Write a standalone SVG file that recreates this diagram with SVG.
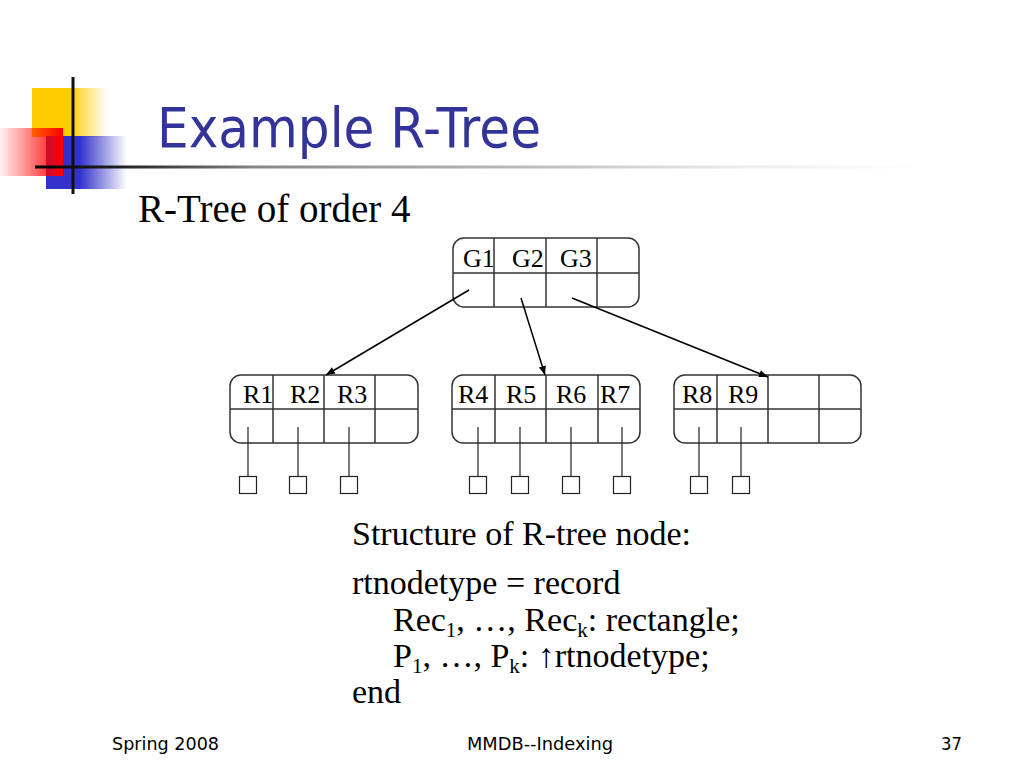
<svg xmlns="http://www.w3.org/2000/svg" width="1024" height="768" viewBox="0 0 1024 768">
<defs>
<linearGradient id="gY" x1="32" y1="0" x2="107" y2="0" gradientUnits="userSpaceOnUse">
<stop offset="0" stop-color="#FFCC00"/><stop offset="0.5" stop-color="#FFCC00"/><stop offset="1" stop-color="#FFCC00" stop-opacity="0"/>
</linearGradient>
<linearGradient id="gB" x1="46" y1="0" x2="127" y2="0" gradientUnits="userSpaceOnUse">
<stop offset="0" stop-color="#3333CC"/><stop offset="0.42" stop-color="#3333CC"/><stop offset="1" stop-color="#3333CC" stop-opacity="0"/>
</linearGradient>
<linearGradient id="gR" x1="0" y1="0" x2="63" y2="0" gradientUnits="userSpaceOnUse">
<stop offset="0" stop-color="#FF0000" stop-opacity="0.05"/><stop offset="1" stop-color="#FF0000"/>
</linearGradient>
<linearGradient id="gL" x1="35" y1="0" x2="925" y2="0" gradientUnits="userSpaceOnUse">
<stop offset="0" stop-color="#000"/><stop offset="0.1" stop-color="#222"/><stop offset="0.25" stop-color="#888"/><stop offset="0.55" stop-color="#bbb"/><stop offset="0.8" stop-color="#eee"/><stop offset="1" stop-color="#fff"/>
</linearGradient>
<marker id="arr" viewBox="0 0 10 10" refX="10" refY="5" markerWidth="9" markerHeight="9" markerUnits="userSpaceOnUse" orient="auto">
<path d="M0,1 L10,5 L0,9 z" fill="#000"/>
</marker>
<style>
.node{fill:#fff;stroke:#333;stroke-width:1.5}
.div{stroke:#333;stroke-width:1.5;fill:none}
.lbl{font-family:"Liberation Serif","Times New Roman",serif;font-size:26px;fill:#000}
.leaf{fill:#fff;stroke:#222;stroke-width:1.2}
.stem{stroke:#222;stroke-width:1.2}
.body{font-family:"Liberation Serif","Times New Roman",serif;font-size:34px;fill:#000}
.sub{font-size:21px}
.foot{font-family:"DejaVu Sans",Verdana,sans-serif;font-size:17px;fill:#000}
.conn{stroke:#000;stroke-width:1.5;fill:none;marker-end:url(#arr)}
</style>
</defs>
<rect width="1024" height="768" fill="#fff"/>
<g id="logo">
<rect x="32" y="88" width="75" height="49" fill="url(#gY)"/>
<rect x="46" y="136" width="81" height="53" fill="url(#gB)"/>
<rect x="0" y="128" width="63" height="48" fill="url(#gR)"/>
<rect x="35" y="165.5" width="890" height="3" fill="url(#gL)"/>
<rect x="71.5" y="77" width="3" height="117" fill="#111"/>
</g>
<text id="title" x="157" y="147" font-family="DejaVu Sans,Verdana,sans-serif" font-size="56" fill="#333399" textLength="384" lengthAdjust="spacingAndGlyphs">Example R-Tree</text>
<text id="subtitle" x="138" y="222" font-family="Liberation Serif,Times New Roman,serif" font-size="39" fill="#000">R-Tree of order 4</text>

<g id="root">
<rect class="node" x="453" y="238" width="186" height="69" rx="11"/>
<path class="div" d="M453,273 H639 M494,238 V307 M546,238 V307 M597,238 V307"/>
<text class="lbl" x="463" y="267">G1</text>
<text class="lbl" x="512" y="267">G2</text>
<text class="lbl" x="560" y="267">G3</text>
</g>

<g id="leafA">
<rect class="node" x="230" y="375" width="188" height="68" rx="11"/>
<path class="div" d="M230,409 H418 M273,375 V443 M324,375 V443 M375,375 V443"/>
<text class="lbl" x="243" y="403">R1</text>
<text class="lbl" x="290" y="403">R2</text>
<text class="lbl" x="337" y="403">R3</text>
</g>
<g id="leafB">
<rect class="node" x="452" y="375" width="188" height="68" rx="11"/>
<path class="div" d="M452,409 H640 M495,375 V443 M546,375 V443 M598,375 V443"/>
<text class="lbl" x="458" y="403">R4</text>
<text class="lbl" x="506" y="403">R5</text>
<text class="lbl" x="556" y="403">R6</text>
<text class="lbl" x="600" y="403">R7</text>
</g>
<g id="leafC">
<rect class="node" x="674" y="375" width="187" height="68" rx="11"/>
<path class="div" d="M674,409 H861 M717,375 V443 M768,375 V443 M819,375 V443"/>
<text class="lbl" x="682" y="403">R8</text>
<text class="lbl" x="728" y="403">R9</text>
</g>

<g id="data">
<g id="d1"><rect class="leaf" x="239.5" y="476.5" width="17" height="17"/></g>
<g id="d2"><rect class="leaf" x="289.5" y="476.5" width="17" height="17"/></g>
<g id="d3"><rect class="leaf" x="340.5" y="476.5" width="17" height="17"/></g>
<g id="d4"><rect class="leaf" x="469.5" y="476.5" width="17" height="17"/></g>
<g id="d5"><rect class="leaf" x="511.5" y="476.5" width="17" height="17"/></g>
<g id="d6"><rect class="leaf" x="562.5" y="476.5" width="17" height="17"/></g>
<g id="d7"><rect class="leaf" x="613.5" y="476.5" width="17" height="17"/></g>
<g id="d8"><rect class="leaf" x="690.5" y="476.5" width="17" height="17"/></g>
<g id="d9"><rect class="leaf" x="732.5" y="476.5" width="17" height="17"/></g>
</g>

<g id="connectors">
<line class="conn" x1="469" y1="290" x2="326" y2="375"/>
<line class="conn" x1="521" y1="298" x2="545" y2="375"/>
<line class="conn" x1="572" y1="298" x2="768" y2="377"/>
<path class="stem" d="M248,427 V476.5 M298,427 V476.5 M349,427 V476.5 M478,427 V476.5 M520,427 V476.5 M571,427 V476.5 M622,427 V476.5 M699,427 V476.5 M741,427 V476.5"/>
</g>

<g id="structure">
<text class="body" x="352" y="545">Structure of R-tree node:</text>
<text class="body" x="352" y="594">rtnodetype = record</text>
<text class="body" x="393" y="631">Rec<tspan class="sub" dy="6">1</tspan><tspan dy="-6">, …, Rec</tspan><tspan class="sub" dy="6">k</tspan><tspan dy="-6">: rectangle;</tspan></text>
<text class="body" x="393" y="667">P<tspan class="sub" dy="6">1</tspan><tspan dy="-6">, …, P</tspan><tspan class="sub" dy="6">k</tspan><tspan dy="-6">: ↑rtnodetype;</tspan></text>
<text class="body" x="352" y="703">end</text>
</g>

<g id="footer">
<text class="foot" x="112" y="750" textLength="107" lengthAdjust="spacingAndGlyphs">Spring 2008</text>
<text class="foot" x="467" y="750" textLength="146" lengthAdjust="spacingAndGlyphs">MMDB--Indexing</text>
<text class="foot" x="941" y="750" textLength="21" lengthAdjust="spacingAndGlyphs">37</text>
</g>
</svg>
